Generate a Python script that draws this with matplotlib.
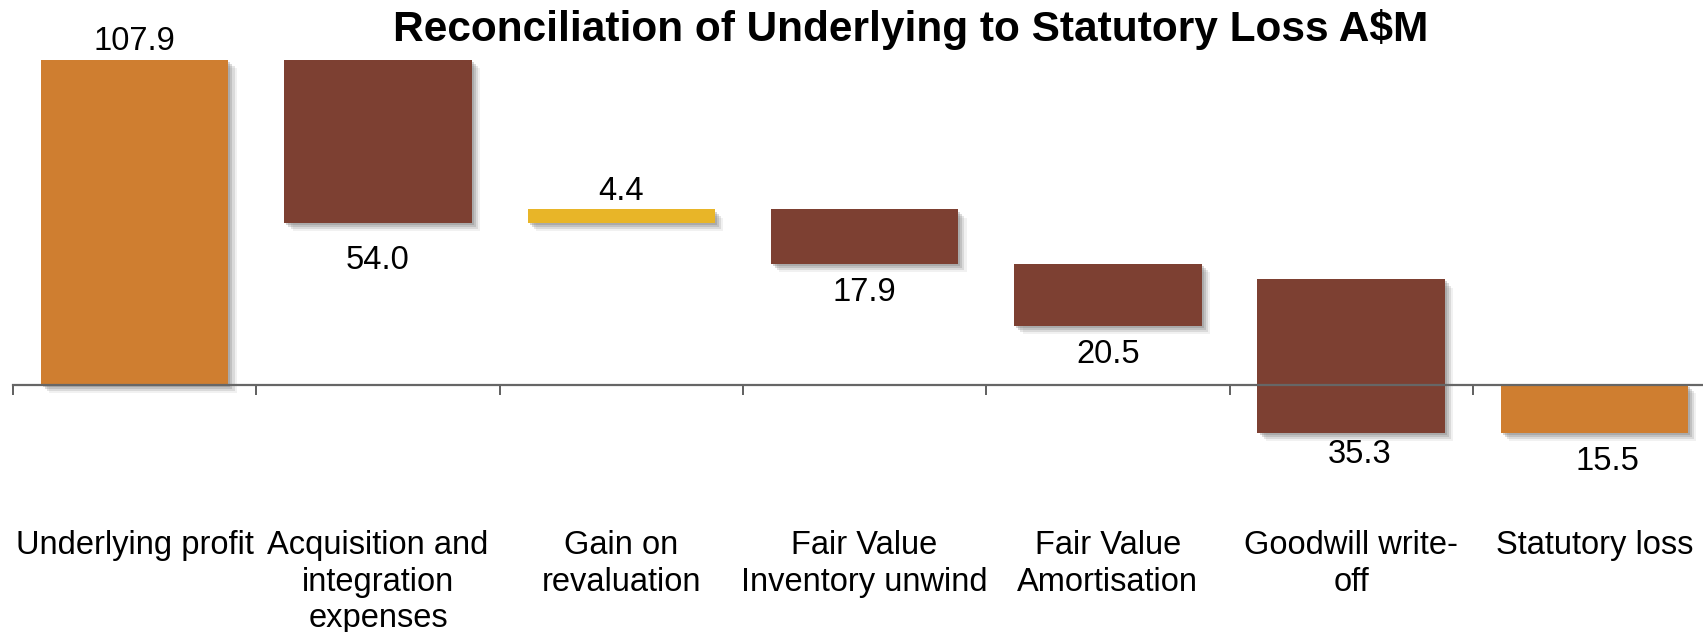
import matplotlib
matplotlib.use("Agg")
from matplotlib import pyplot as plt
from matplotlib import patheffects as pe

plt.rcParams['font.family'] = ['Liberation Sans', 'DejaVu Sans']

# categories and values
categories = ['Underlying profit', 'Acquisition and\nintegration\nexpenses',
              'Gain on\nrevaluation', 'Fair Value\nInventory unwind',
              'Fair Value\nAmortisation', 'Goodwill write-\noff', 'Statutory loss']
value_labels = ['107.9', '54.0', '4.4', '17.9', '20.5', '35.3', '15.5']
bar_top = [107.9, 107.9, 58.2, 58.2, 40.2, 35.0, 0.0]
bar_bottom = [0.0, 53.8, 53.8, 40.2, 19.6, -16.0, -16.0]
label_above = [True, False, True, False, False, False, False]
bar_kind = ['total', 'down', 'up', 'down', 'down', 'down', 'total']

colors = {'total': '#CF7E30', 'down': '#7D4032', 'up': '#E8B528'}

W, H = 1703, 632
fig = plt.figure(figsize=(W / 100, H / 100), dpi=100)
fig.patch.set_facecolor('white')

step = 243.3  # pixels per category
x0 = 13
ax = fig.add_axes([x0 / W, 0, 7 * step / W, 1])
zero_px = 384.5  # from top
per_unit = 3.007
ax.set_xlim(-0.5, 6.5)
ax.set_ylim(-(H - zero_px) / per_unit, zero_px / per_unit)
ax.patch.set_alpha(0)

# soft drop shadow built from a few offset layers
shadow = [pe.SimplePatchShadow(offset=(6, -6), shadow_rgbFace='#bbbbbb', alpha=0.2),
          pe.SimplePatchShadow(offset=(4.5, -4.5), shadow_rgbFace='#999999', alpha=0.25),
          pe.SimplePatchShadow(offset=(3, -3), shadow_rgbFace='#888888', alpha=0.3),
          pe.SimplePatchShadow(offset=(1.5, -1.5), shadow_rgbFace='#777777', alpha=0.3),
          pe.Normal()]

heights = [t - b for t, b in zip(bar_top, bar_bottom)]
bars = ax.bar(range(len(categories)), heights, bottom=bar_bottom, width=0.77,
              color=[colors[k] for k in bar_kind], zorder=2)
for b in bars:
    b.set_path_effects(shadow)

nudge = {1: (0, -6), 5: (6, 5), 6: (9, 0)}
for i, (txt, above) in enumerate(zip(value_labels, label_above)):
    dx, dy = nudge.get(i, (0, 0))
    if above:
        ax.annotate(txt, xy=(i, bar_top[i]), xytext=(dx, 7 + dy),
                    textcoords='offset points', ha='center', va='baseline',
                    fontsize=23.5)
    else:
        ax.annotate(txt, xy=(i, bar_bottom[i]), xytext=(dx, -27 + dy),
                    textcoords='offset points', ha='center', va='baseline',
                    fontsize=23.5)

for s in ['top', 'right', 'left']:
    ax.spines[s].set_visible(False)
ax.spines['bottom'].set_position(('data', 0))
ax.spines['bottom'].set_color('#666666')
ax.spines['bottom'].set_linewidth(1.6)
ax.spines['bottom'].set_zorder(3)
ax.set_yticks([])

ax.set_xticks([i - 0.5 for i in range(len(categories))])
ax.set_xticklabels([])
ax.tick_params(axis='x', which='major', direction='out', length=7, width=1.2,
               color='#444444')
ax.set_xticks(range(len(categories)), minor=True)
ax.set_xticklabels(categories, minor=True, fontsize=23.5)
ax.tick_params(axis='x', which='minor', length=0, pad=105)
for lab in ax.get_xticklabels(minor=True):
    lab.set_linespacing(1.22)

fig.text(911 / W, 1 - 41 / H, 'Reconciliation of Underlying to Statutory Loss A$M',
         ha='center', va='baseline', fontsize=30.5, fontweight='bold')

fig.savefig('out.png', dpi=100, facecolor='white')
